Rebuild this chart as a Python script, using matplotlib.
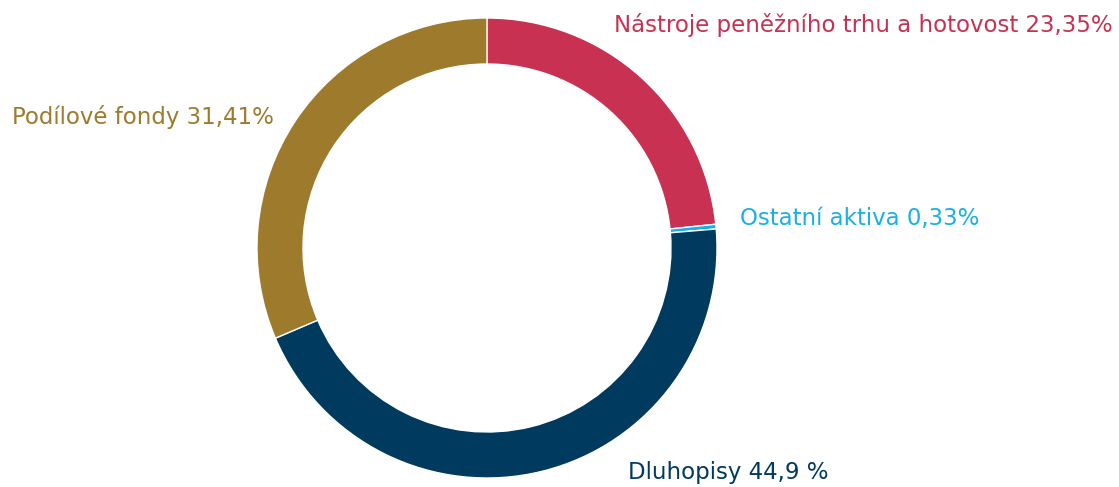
import matplotlib
matplotlib.use("Agg")
import matplotlib.pyplot as plt

# data
labels = ["Nástroje peněžního trhu a hotovost 23,35%", "Ostatní aktiva 0,33%",
          "Dluhopisy 44,9 %", "Podílové fondy 31,41%"]
values = [23.35, 0.33, 44.9, 31.41]
colors = ["#C83152", "#1AAFE6", "#003A5F", "#9E7A2D"]

W, H = 1119, 487
fig = plt.figure(figsize=(W / 100, H / 100), dpi=100)
fig.patch.set_facecolor("white")

# donut centre (487, 248) px, radius 230 px
cx, cy, r = 487, 248, 230
ax = fig.add_axes([(cx - r) / W, (H - cy - r) / H, 2 * r / W, 2 * r / H])
ax.pie(values, colors=colors, startangle=90, counterclock=False,
       radius=1.0, wedgeprops=dict(width=0.2, edgecolor="white", linewidth=1))
ax.set_xlim(-1, 1)
ax.set_ylim(-1, 1)
ax.set_aspect("equal")
ax.axis("off")

font = dict(family="DejaVu Sans", fontsize=16.5)
# label anchor points in pixels (x, y from top), alignment
pos = [(1113, 25, "right"), (740, 218, "left"), (628, 472, "left"), (12, 117, "left")]
for lab, col, (px, py, ha) in zip(labels, colors, pos):
    fig.text(px / W, 1 - py / H, lab, color=col, ha=ha, va="center", **font)

fig.savefig("out.png", dpi=100, facecolor="white")
